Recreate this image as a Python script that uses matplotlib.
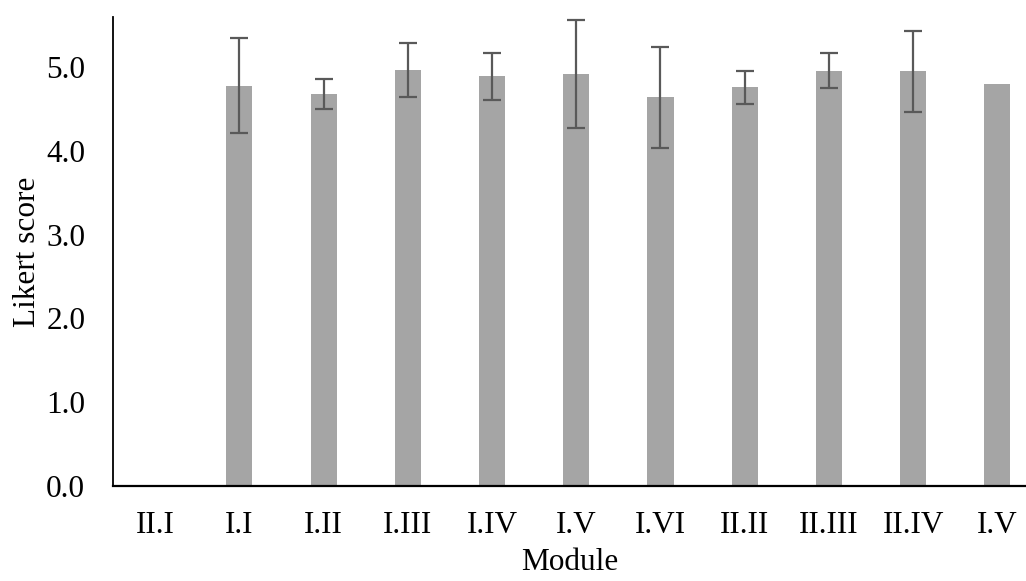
import matplotlib.pyplot as plt
import numpy as np

modules = ["II.I", "I.I", "I.II", "I.III", "I.IV", "I.V", "I.VI", "II.II", "II.III", "II.IV", "I.V"]
means = [0.0, 4.78, 4.68, 4.97, 4.89, 4.92, 4.64, 4.76, 4.96, 4.95, 4.80]
errors = [0.0, 0.57, 0.18, 0.32, 0.28, 0.65, 0.60, 0.20, 0.21, 0.48, 0.0]

plt.rcParams['font.family'] = ['Liberation Serif', 'DejaVu Serif']

fig = plt.figure(figsize=(10.26, 5.81), dpi=100)
ax = fig.add_axes([113 / 1026, 95 / 581, (1026 - 113) / 1026, 469 / 581])

x = np.arange(len(modules))
has_err = np.array(errors) > 0

ax.bar(x, means, width=0.31, color="#A5A5A5", zorder=2)
ax.errorbar(x[has_err], np.array(means)[has_err], yerr=np.array(errors)[has_err],
            fmt='none', ecolor="#595959", elinewidth=1.6, capsize=6.5, capthick=1.6, zorder=3)

ax.set_xlim(-0.5, 10.34)
ax.set_ylim(0, 5.6)
ax.set_yticks(np.arange(0, 6, 1.0))
ax.set_yticklabels([f"{v:.1f}" for v in np.arange(0, 6, 1.0)])
ax.set_xticks(x)
ax.set_xticklabels(modules)

ax.tick_params(axis='both', length=0, labelsize=22.5)
ax.tick_params(axis='x', pad=18)
ax.tick_params(axis='y', pad=20)

for s in ['top', 'right']:
    ax.spines[s].set_visible(False)
ax.spines['left'].set_linewidth(1.3)
ax.spines['bottom'].set_linewidth(1.6)

ax.set_xlabel("Module", fontsize=22.5, labelpad=6)
ax.set_ylabel("Likert score", fontsize=22.5, labelpad=3)

plt.savefig("out.png", dpi=100)
